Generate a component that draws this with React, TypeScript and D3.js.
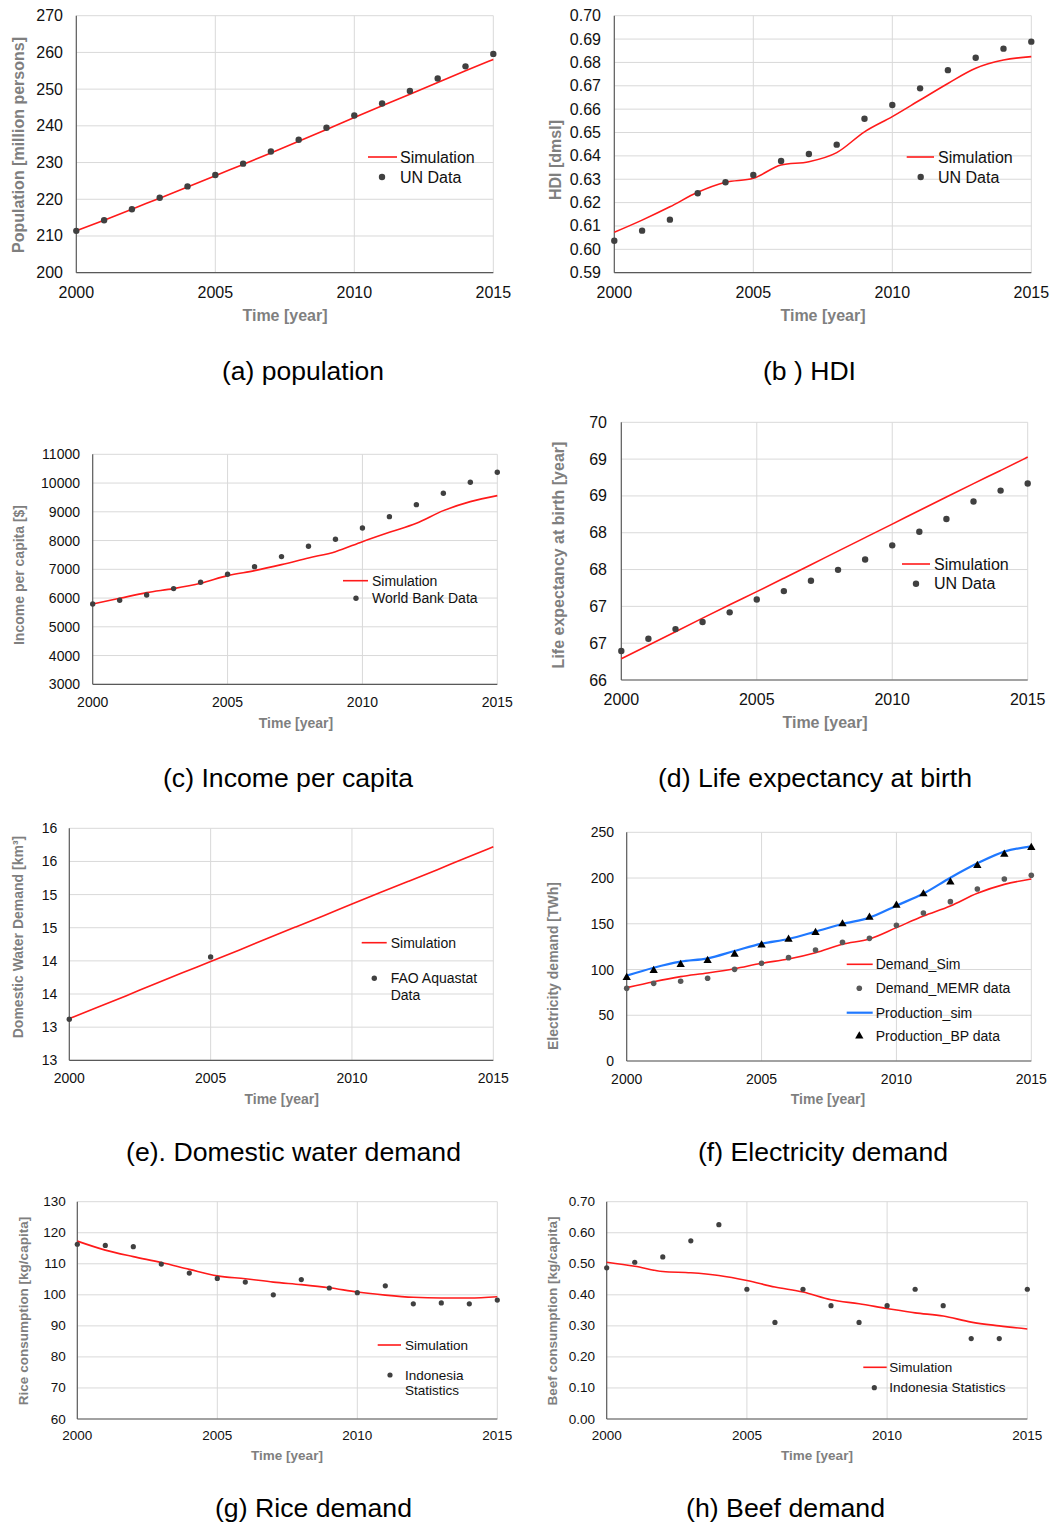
import React from 'react';
import * as d3 from 'd3';

// ---------- data ----------
const YEARS = [2000, 2001, 2002, 2003, 2004, 2005, 2006, 2007, 2008, 2009, 2010, 2011, 2012, 2013, 2014, 2015];
const X_TICKS = [2000, 2005, 2010, 2015];

const popSim = [211.4, 214.3, 217.3, 220.3, 223.3, 226.4, 229.5, 232.6, 235.8, 239.0, 242.3, 245.5, 248.6, 251.8, 255.0, 258.1];
const popUN = [211.4, 214.3, 217.3, 220.4, 223.5, 226.6, 229.7, 233.0, 236.2, 239.5, 242.8, 246.1, 249.5, 252.9, 256.2, 259.6];
const popTicks = [200, 210, 220, 230, 240, 250, 260, 270];

const hdiSim = [0.6073, 0.6125, 0.6182, 0.6244, 0.6287, 0.6304, 0.6361, 0.6375, 0.6414, 0.6503, 0.6568, 0.6639, 0.671, 0.6775, 0.681, 0.6825];
const hdiUN = [0.6037, 0.608, 0.6127, 0.624, 0.6287, 0.6318, 0.6378, 0.6408, 0.6448, 0.6559, 0.6618, 0.6689, 0.6767, 0.682, 0.6859, 0.6889];
const hdiTicks = [0.59, 0.6, 0.61, 0.62, 0.63, 0.64, 0.65, 0.66, 0.67, 0.68, 0.69, 0.7];

const incomeSim = [5794, 5991, 6188, 6328, 6513, 6780, 6954, 7162, 7394, 7614, 7962, 8287, 8600, 9041, 9354, 9562];
const incomeWB = [5794, 5922, 6107, 6328, 6548, 6826, 7093, 7441, 7800, 8043, 8438, 8832, 9249, 9643, 10026, 10374];
const incomeTicks = [3000, 4000, 5000, 6000, 7000, 8000, 9000, 10000, 11000];

const lifeSim = [66.33, 66.54, 66.75, 66.96, 67.17, 67.37, 67.58, 67.79, 68.0, 68.21, 68.42, 68.63, 68.84, 69.05, 69.25, 69.46];
const lifeUN = [66.45, 66.64, 66.79, 66.9, 67.05, 67.25, 67.38, 67.54, 67.71, 67.87, 68.09, 68.3, 68.5, 68.77, 68.94, 69.05];
const lifeTickLabels = ['66', '67', '67', '68', '68', '69', '69', '70'];

const waterSim = [13.13, 13.3, 13.47, 13.65, 13.82, 13.99, 14.16, 14.34, 14.51, 14.68, 14.86, 15.03, 15.2, 15.37, 15.55, 15.72];
const waterYears = [2000, 2005];
const waterFAO = [13.12, 14.06];
const waterTicks = [12.5, 13, 13.5, 14, 14.5, 15, 15.5, 16];
const waterTickLabels = ['13', '13', '14', '14', '15', '15', '16', '16'];

const elecDemSim = [80.2, 86.7, 92.2, 96.2, 100.9, 106.8, 111.5, 118.4, 127.6, 133.4, 145.8, 158.5, 169.5, 183.3, 193.1, 199];
const elecDemMEMR = [79.4, 84.9, 87.1, 90.4, 100.2, 106.8, 113, 121.4, 129.7, 134.1, 148.3, 161.8, 174.2, 188, 199, 203];
const elecProdSim = [93.3, 102, 108.6, 112.2, 120.3, 128.3, 133.4, 141.4, 149.8, 156.7, 169.8, 183, 200.4, 216.1, 228.9, 234.7];
const elecProdBP = [91.1, 98.8, 105.4, 109.7, 116.6, 126.8, 133.0, 140.3, 149.8, 157.1, 170.2, 182.6, 195.7, 213.6, 226, 233.2];
const elecTicks = [0, 50, 100, 150, 200, 250];

const riceSim = [117.3, 114.4, 112.3, 110.4, 108.2, 106.1, 105.2, 104.1, 103.3, 102.3, 100.9, 99.9, 99.2, 99.0, 99.0, 99.4];
const riceStats = [116.3, 115.9, 115.5, 109.9, 107.0, 105.3, 104.1, 100.0, 104.9, 102.2, 100.7, 102.9, 97.1, 97.4, 97.1, 98.3];
const riceTicks = [60, 70, 80, 90, 100, 110, 120, 130];

const beefSim = [0.505, 0.492, 0.475, 0.471, 0.462, 0.446, 0.425, 0.409, 0.384, 0.371, 0.356, 0.342, 0.332, 0.312, 0.3, 0.29];
const beefStats = [0.487, 0.505, 0.522, 0.574, 0.626, 0.418, 0.311, 0.418, 0.365, 0.311, 0.365, 0.418, 0.365, 0.259, 0.259, 0.418];
const beefTicks = [0, 0.1, 0.2, 0.3, 0.4, 0.5, 0.6, 0.7];

// ---------- styles ----------
const FONT = '"Liberation Sans", Arial, Helvetica, sans-serif';
const RED = '#ff1a1a';
const BLUE = '#1f78ff';
const DOT = '#404040';
const GRID = '#d9d9d9';
const AXIS = '#595959';
const TITLE = '#7f7f7f';
const TICK = '#111111';

type Series = {
  kind: 'line' | 'dot' | 'tri';
  xs: number[];
  ys: number[];
  color: string;
  label: string[];
  width?: number;
  r?: number;
  straight?: boolean;
};

type Spec = {
  x0: number; x1: number; y0: number; y1: number;
  yDomain: [number, number];
  yTicks: number[];
  yLabels: string[];
  tickFont: number; tickRight: number; xTickY: number;
  titleFont: number; xTitleX: number; xTitleY: number;
  yTitle: string; yTitleX: number; yTitleY: number;
  legX0: number; legX1: number; legTextX: number; legMarkX: number;
  legRows: number[]; legFont: number; legLineGap: number;
  caption: string; capX: number; capY: number; capW: number;
  series: Series[];
};

function Panel({ s }: { s: Spec }) {
  const x = d3.scaleLinear().domain([2000, 2015]).range([s.x0, s.x1]);
  const y = d3.scaleLinear().domain(s.yDomain).range([s.y1, s.y0]);
  const smooth = d3.line<[number, number]>().x(d => x(d[0])).y(d => y(d[1])).curve(d3.curveMonotoneX);
  const straight = d3.line<[number, number]>().x(d => x(d[0])).y(d => y(d[1])).curve(d3.curveBasis);
  const tri = d3.symbol().type(d3.symbolTriangle).size(30)();
  return (
    <g>
      {s.yTicks.map((t, i) => (
        <line key={'gy' + i} x1={s.x0} x2={s.x1} y1={y(t)} y2={y(t)} stroke={GRID} strokeWidth={1} />
      ))}
      {X_TICKS.slice(1).map((t, i) => (
        <line key={'gx' + i} x1={x(t)} x2={x(t)} y1={s.y0} y2={s.y1} stroke={GRID} strokeWidth={1} />
      ))}
      <line x1={s.x0} x2={s.x0} y1={s.y0} y2={s.y1} stroke={AXIS} strokeWidth={1.2} />
      <line x1={s.x0} x2={s.x1} y1={s.y1} y2={s.y1} stroke={AXIS} strokeWidth={1.2} />
      {s.yTicks.map((t, i) => (
        <text key={'ty' + i} x={s.tickRight} y={y(t)} textAnchor="end" dominantBaseline="central"
          fontSize={s.tickFont} fill={TICK}>{s.yLabels[i]}</text>
      ))}
      {X_TICKS.map((t, i) => (
        <text key={'tx' + i} x={x(t)} y={s.xTickY} textAnchor="middle" dominantBaseline="central"
          fontSize={s.tickFont} fill={TICK}>{t}</text>
      ))}
      <text x={s.xTitleX} y={s.xTitleY} textAnchor="middle" dominantBaseline="central"
        fontSize={s.titleFont} fontWeight="bold" fill={TITLE}>Time [year]</text>
      <text transform={`translate(${s.yTitleX},${s.yTitleY}) rotate(-90)`} textAnchor="middle"
        dominantBaseline="central" fontSize={s.titleFont} fontWeight="bold" fill={TITLE}>{s.yTitle}</text>
      {s.series.map((ser, k) => {
        const pts: [number, number][] = ser.xs.map((v, i) => [v, ser.ys[i]]);
        if (ser.kind === 'line') {
          const gen = ser.straight ? straight : smooth;
          return <path key={'s' + k} d={gen(pts) || ''} fill="none" stroke={ser.color} strokeWidth={ser.width || 1.6} />;
        }
        if (ser.kind === 'dot') {
          return (
            <g key={'s' + k}>
              {pts.map((p, i) => <circle key={i} cx={x(p[0])} cy={y(p[1])} r={ser.r || 3} fill={ser.color} />)}
            </g>
          );
        }
        return (
          <g key={'s' + k}>
            {pts.map((p, i) => <path key={i} d={tri || ''} transform={`translate(${x(p[0])},${y(p[1])})`} fill={ser.color} />)}
          </g>
        );
      })}
      {s.series.map((ser, k) => {
        const ry = s.legRows[k];
        let mark;
        if (ser.kind === 'line') {
          mark = <line x1={s.legX0} x2={s.legX1} y1={ry} y2={ry} stroke={ser.color} strokeWidth={ser.width || 1.6} />;
        } else if (ser.kind === 'dot') {
          mark = <circle cx={s.legMarkX} cy={ry} r={ser.r || 3} fill={ser.color} />;
        } else {
          mark = <path d={tri || ''} transform={`translate(${s.legMarkX},${ry})`} fill={ser.color} />;
        }
        return (
          <g key={'l' + k}>
            {mark}
            {ser.label.map((t, j) => (
              <text key={j} x={s.legTextX} y={ry + j * s.legLineGap} dominantBaseline="central"
                fontSize={s.legFont} fill={TICK}>{t}</text>
            ))}
          </g>
        );
      })}
      <text x={s.capX} y={s.capY} textAnchor="middle" dominantBaseline="central" fontSize={26}
        fill="#000" textLength={s.capW} lengthAdjust="spacingAndGlyphs">{s.caption}</text>
    </g>
  );
}

const fmt2 = d3.format('.2f');
const fmt0 = d3.format('d');
const lifeTicks = lifeTickLabels.map((_, i) => 66 + (i * 4) / 7);

const specs: Spec[] = [
  {
    x0: 76.3, x1: 493.3, y0: 15.7, y1: 272.7, yDomain: [200, 270], yTicks: popTicks, yLabels: popTicks.map(fmt0),
    tickFont: 16, tickRight: 63, xTickY: 292.5, titleFont: 16, xTitleX: 285, xTitleY: 315.5,
    yTitle: 'Population [million persons]', yTitleX: 18, yTitleY: 145,
    legX0: 368, legX1: 397, legTextX: 400, legMarkX: 382, legRows: [157, 177], legFont: 16, legLineGap: 17,
    caption: '(a) population', capX: 303, capY: 371, capW: 162,
    series: [
      { kind: 'line', xs: YEARS, ys: popSim, color: RED, label: ['Simulation'], width: 1.6, straight: true },
      { kind: 'dot', xs: YEARS, ys: popUN, color: DOT, label: ['UN Data'], r: 3.2 },
    ],
  },
  {
    x0: 614.3, x1: 1031.3, y0: 15.7, y1: 272.7, yDomain: [0.59, 0.7], yTicks: hdiTicks, yLabels: hdiTicks.map(fmt2),
    tickFont: 16, tickRight: 601, xTickY: 292.5, titleFont: 16, xTitleX: 823, xTitleY: 315.5,
    yTitle: 'HDI [dmsl]', yTitleX: 555, yTitleY: 160,
    legX0: 906.7, legX1: 934, legTextX: 938, legMarkX: 920.7, legRows: [157, 177], legFont: 16, legLineGap: 17,
    caption: '(b ) HDI', capX: 809.5, capY: 371, capW: 93,
    series: [
      { kind: 'line', xs: YEARS, ys: hdiSim, color: RED, label: ['Simulation'], width: 1.6 },
      { kind: 'dot', xs: YEARS, ys: hdiUN, color: DOT, label: ['UN Data'], r: 3.2 },
    ],
  },
  {
    x0: 92.7, x1: 497.3, y0: 454.3, y1: 684.3, yDomain: [3000, 11000], yTicks: incomeTicks, yLabels: incomeTicks.map(fmt0),
    tickFont: 14, tickRight: 80, xTickY: 701.7, titleFont: 14, xTitleX: 296, xTitleY: 722.7,
    yTitle: 'Income per capita [$]', yTitleX: 19, yTitleY: 575,
    legX0: 343, legX1: 368, legTextX: 372, legMarkX: 356, legRows: [580.7, 598.3], legFont: 14, legLineGap: 16,
    caption: '(c) Income per capita', capX: 288, capY: 778, capW: 250,
    series: [
      { kind: 'line', xs: YEARS, ys: incomeSim, color: RED, label: ['Simulation'], width: 1.6 },
      { kind: 'dot', xs: YEARS, ys: incomeWB, color: DOT, label: ['World Bank Data'], r: 2.7 },
    ],
  },
  {
    x0: 621.3, x1: 1027.7, y0: 422.3, y1: 680, yDomain: [66, 70], yTicks: lifeTicks, yLabels: lifeTickLabels,
    tickFont: 16, tickRight: 607, xTickY: 699, titleFont: 16, xTitleX: 825, xTitleY: 722.7,
    yTitle: 'Life expectancy at birth [year]', yTitleX: 558, yTitleY: 555,
    legX0: 902, legX1: 930, legTextX: 934, legMarkX: 916, legRows: [564, 583.7], legFont: 16, legLineGap: 17,
    caption: '(d) Life expectancy at birth', capX: 815, capY: 778, capW: 314,
    series: [
      { kind: 'line', xs: YEARS, ys: lifeSim, color: RED, label: ['Simulation'], width: 1.6, straight: true },
      { kind: 'dot', xs: YEARS, ys: lifeUN, color: DOT, label: ['UN Data'], r: 3.2 },
    ],
  },
  {
    x0: 69.3, x1: 493.3, y0: 828.3, y1: 1060.3, yDomain: [12.5, 16], yTicks: waterTicks, yLabels: waterTickLabels,
    tickFont: 14, tickRight: 57.3, xTickY: 1078, titleFont: 14, xTitleX: 281.7, xTitleY: 1099,
    yTitle: 'Domestic Water Demand [km³]', yTitleX: 18, yTitleY: 937,
    legX0: 361.7, legX1: 386.7, legTextX: 390.7, legMarkX: 374.3, legRows: [942.7, 978.3], legFont: 14, legLineGap: 16.7,
    caption: '(e). Domestic water demand', capX: 293.5, capY: 1152, capW: 335,
    series: [
      { kind: 'line', xs: YEARS, ys: waterSim, color: RED, label: ['Simulation'], width: 1.6, straight: true },
      { kind: 'dot', xs: waterYears, ys: waterFAO, color: DOT, label: ['FAO Aquastat', 'Data'], r: 2.7 },
    ],
  },
  {
    x0: 626.7, x1: 1031.3, y0: 832.3, y1: 1061, yDomain: [0, 250], yTicks: elecTicks, yLabels: elecTicks.map(fmt0),
    tickFont: 14, tickRight: 614, xTickY: 1079, titleFont: 14, xTitleX: 828, xTitleY: 1099,
    yTitle: 'Electricity demand [TWh]', yTitleX: 553, yTitleY: 966,
    legX0: 846.7, legX1: 872.7, legTextX: 875.7, legMarkX: 859.3, legRows: [964.3, 988.3, 1012.7, 1036], legFont: 14, legLineGap: 16,
    caption: '(f) Electricity demand', capX: 823, capY: 1152, capW: 250,
    series: [
      { kind: 'line', xs: YEARS, ys: elecDemSim, color: RED, label: ['Demand_Sim'], width: 1.6 },
      { kind: 'dot', xs: YEARS, ys: elecDemMEMR, color: '#595959', label: ['Demand_MEMR data'], r: 2.8 },
      { kind: 'line', xs: YEARS, ys: elecProdSim, color: BLUE, label: ['Production_sim'], width: 2.2 },
      { kind: 'tri', xs: YEARS, ys: elecProdBP, color: '#000', label: ['Production_BP data'] },
    ],
  },
  {
    x0: 77.3, x1: 497.3, y0: 1201.7, y1: 1419, yDomain: [60, 130], yTicks: riceTicks, yLabels: riceTicks.map(fmt0),
    tickFont: 13.5, tickRight: 65.7, xTickY: 1435.7, titleFont: 13.5, xTitleX: 287, xTitleY: 1455.7,
    yTitle: 'Rice consumption [kg/capita]', yTitleX: 23, yTitleY: 1311,
    legX0: 377.7, legX1: 401, legTextX: 405, legMarkX: 390, legRows: [1345, 1375], legFont: 13.5, legLineGap: 15.5,
    caption: '(g) Rice demand', capX: 313.5, capY: 1508, capW: 197,
    series: [
      { kind: 'line', xs: YEARS, ys: riceSim, color: RED, label: ['Simulation'], width: 1.6 },
      { kind: 'dot', xs: YEARS, ys: riceStats, color: DOT, label: ['Indonesia', 'Statistics'], r: 2.6 },
    ],
  },
  {
    x0: 606.7, x1: 1027.3, y0: 1201.7, y1: 1419, yDomain: [0, 0.7], yTicks: beefTicks, yLabels: beefTicks.map(fmt2),
    tickFont: 13.5, tickRight: 595, xTickY: 1435.7, titleFont: 13.5, xTitleX: 817, xTitleY: 1455.7,
    yTitle: 'Beef consumption [kg/capita]', yTitleX: 552.7, yTitleY: 1311,
    legX0: 863.3, legX1: 886.7, legTextX: 889.3, legMarkX: 874.3, legRows: [1367.3, 1387.7], legFont: 13.5, legLineGap: 15.5,
    caption: '(h) Beef demand', capX: 785.5, capY: 1508, capW: 199,
    series: [
      { kind: 'line', xs: YEARS, ys: beefSim, color: RED, label: ['Simulation'], width: 1.6 },
      { kind: 'dot', xs: YEARS, ys: beefStats, color: DOT, label: ['Indonesia Statistics'], r: 2.6 },
    ],
  },
];

export default function App() {
  return (
    <svg width={1052} height={1524} viewBox="0 0 1052 1524"
      style={{ position: 'absolute', left: 0, top: 0, background: '#fff', fontFamily: FONT }}>
      <rect x={0} y={0} width={1052} height={1524} fill="#fff" />
      {specs.map((s, i) => <Panel key={i} s={s} />)}
    </svg>
  );
}
